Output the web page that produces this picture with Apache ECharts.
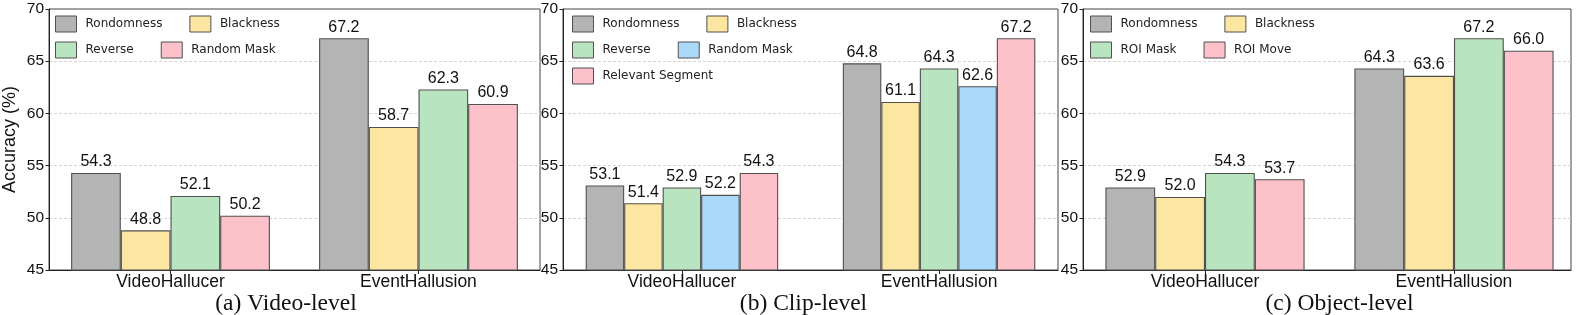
<!DOCTYPE html>
<html>
<head>
<meta charset="utf-8">
<script src="https://cdn.jsdelivr.net/npm/echarts@6/dist/echarts.min.js"></script>
<style>
html,body{margin:0;padding:0;background:#fff;}
#chart{width:1577px;height:315px;}
</style>
</head>
<body>
<div id="chart"></div>
<script>
// ---- data ----
const categories = ['VideoHallucer', 'EventHallusion'];
const captions = ['(a) Video-level', '(b) Clip-level', '(c) Object-level'];
const yTickMin = 45, yTickMax = 70, yTickStep = 5;

// (a) Video-level
const aNames = ['Rondomness', 'Blackness', 'Reverse', 'Random Mask'];
const aRondomness = [54.3, 67.2];
const aBlackness = [48.8, 58.7];
const aReverse = [52.1, 62.3];
const aRandomMask = [50.2, 60.9];

// (b) Clip-level
const bNames = ['Rondomness', 'Blackness', 'Reverse', 'Random Mask', 'Relevant Segment'];
const bRondomness = [53.1, 64.8];
const bBlackness = [51.4, 61.1];
const bReverse = [52.9, 64.3];
const bRandomMask = [52.2, 62.6];
const bRelevantSegment = [54.3, 67.2];

// (c) Object-level
const cNames = ['Rondomness', 'Blackness', 'ROI Mask', 'ROI Move'];
const cRondomness = [52.9, 64.3];
const cBlackness = [52.0, 63.6];
const cROIMask = [54.3, 67.2];
const cROIMove = [53.7, 66.0];

// ---- styles ----
const GRAY = '#b4b4b4', YELLOW = '#fde6a1', GREEN = '#b9e4c0', PINK = '#fdc1c9', BLUE = '#abd9f9';
const panels = [
  { names: aNames, values: [aRondomness, aBlackness, aReverse, aRandomMask],
    colors: [GRAY, YELLOW, GREEN, PINK],
    left: 47, width: 493, xmin: -0.49, xmax: 1.49, barW: 49.7,
    legendRows: [[0, 1], [2, 3]], legendLeft: 55, capX: 286, yName: 'Accuracy (%)' },
  { names: bNames, values: [bRondomness, bBlackness, bReverse, bRandomMask, bRelevantSegment],
    colors: [GRAY, YELLOW, GREEN, BLUE, PINK],
    left: 563, width: 495, xmin: -0.4625, xmax: 1.4625, barW: 38.5,
    legendRows: [[0, 1], [2, 3], [4]], legendLeft: 572, capX: 803.5, yName: '' },
  { names: cNames, values: [cRondomness, cBlackness, cROIMask, cROIMove],
    colors: [GRAY, YELLOW, GREEN, PINK],
    left: 1083, width: 488, xmin: -0.49, xmax: 1.47, barW: 49.8,
    legendRows: [[0, 1], [2, 3]], legendLeft: 1090, capX: 1339.5, yName: '' }
];
const GRID_TOP = 9, GRID_H = 261;
const legendTops = [15.5, 41.5, 67.5];
const SANS = 'Liberation Sans';

const option = {
  animation: false,
  backgroundColor: '#fff',
  textStyle: { fontFamily: SANS },
  grid: [], xAxis: [], yAxis: [], series: [], legend: [], graphic: []
};

panels.forEach((p, pi) => {
  option.grid.push({
    left: p.left, top: GRID_TOP, width: p.width, height: GRID_H,
    show: true, borderColor: '#444', borderWidth: 1, backgroundColor: 'transparent',
    containLabel: false
  });
  option.xAxis.push({
    type: 'value', gridIndex: pi, min: p.xmin, max: p.xmax,
    axisLine: { show: true, onZero: false, lineStyle: { color: '#222', width: 1 } },
    axisTick: { show: true, customValues: [0, 1], length: 4, lineStyle: { color: '#222' } },
    axisLabel: { customValues: [0, 1], margin: 3, fontSize: 17.5, color: '#111', fontFamily: SANS,
      formatter: v => categories[Math.round(v)] },
    splitLine: { show: false }
  });
  option.yAxis.push({
    type: 'value', gridIndex: pi, min: yTickMin, max: yTickMax, interval: yTickStep,
    name: p.yName, nameLocation: 'middle', nameGap: 30,
    nameTextStyle: { fontSize: 18, color: '#111', fontFamily: SANS },
    axisLine: { show: true, onZero: false, lineStyle: { color: '#222', width: 1 } },
    axisTick: { show: true, length: 3.5, lineStyle: { color: '#222' } },
    axisLabel: { margin: 5, fontSize: 15.5, color: '#111', fontFamily: SANS },
    splitLine: { show: true, showMinLine: false, showMaxLine: false,
      lineStyle: { color: '#c9c9c9', type: [3, 2], width: 0.8 } }
  });
  p.names.forEach((name, si) => {
    option.series.push({
      type: 'bar', name: name, xAxisIndex: pi, yAxisIndex: pi,
      data: categories.map((c, ci) => [ci, p.values[si][ci]]),
      barWidth: p.barW, barGap: '0%',
      itemStyle: { color: p.colors[si], borderColor: '#505050', borderWidth: 1.1 },
      label: { show: true, position: 'top', distance: 3, fontSize: 16, color: '#111', fontFamily: SANS,
        formatter: d => d.value[1].toFixed(1) },
      emphasis: { disabled: true }
    });
  });
  p.legendRows.forEach((row, ri) => {
    option.legend.push({
      left: p.legendLeft, top: legendTops[ri], orient: 'horizontal', padding: 0,
      itemWidth: 21, itemHeight: 16, itemGap: 27, icon: 'rect',
      selectedMode: false,
      textStyle: { fontFamily: 'DejaVu Sans', fontSize: 12, color: '#222', padding: [0, 0, 0, 4] },
      data: row.map(i => ({ name: p.names[i],
        itemStyle: { color: p.colors[i], borderColor: '#505050', borderWidth: 1 } }))
    });
  });
  option.graphic.push({
    type: 'text', x: p.capX, y: 303.5,
    style: { text: captions[pi], fontSize: 23.5, fontFamily: 'Liberation Serif', fill: '#111',
      align: 'center', verticalAlign: 'middle', textAlign: 'center', textVerticalAlign: 'middle' }
  });
});

const chart = echarts.init(document.getElementById('chart'), null, { renderer: 'canvas' });
chart.setOption(option);
</script>
</body>
</html>
